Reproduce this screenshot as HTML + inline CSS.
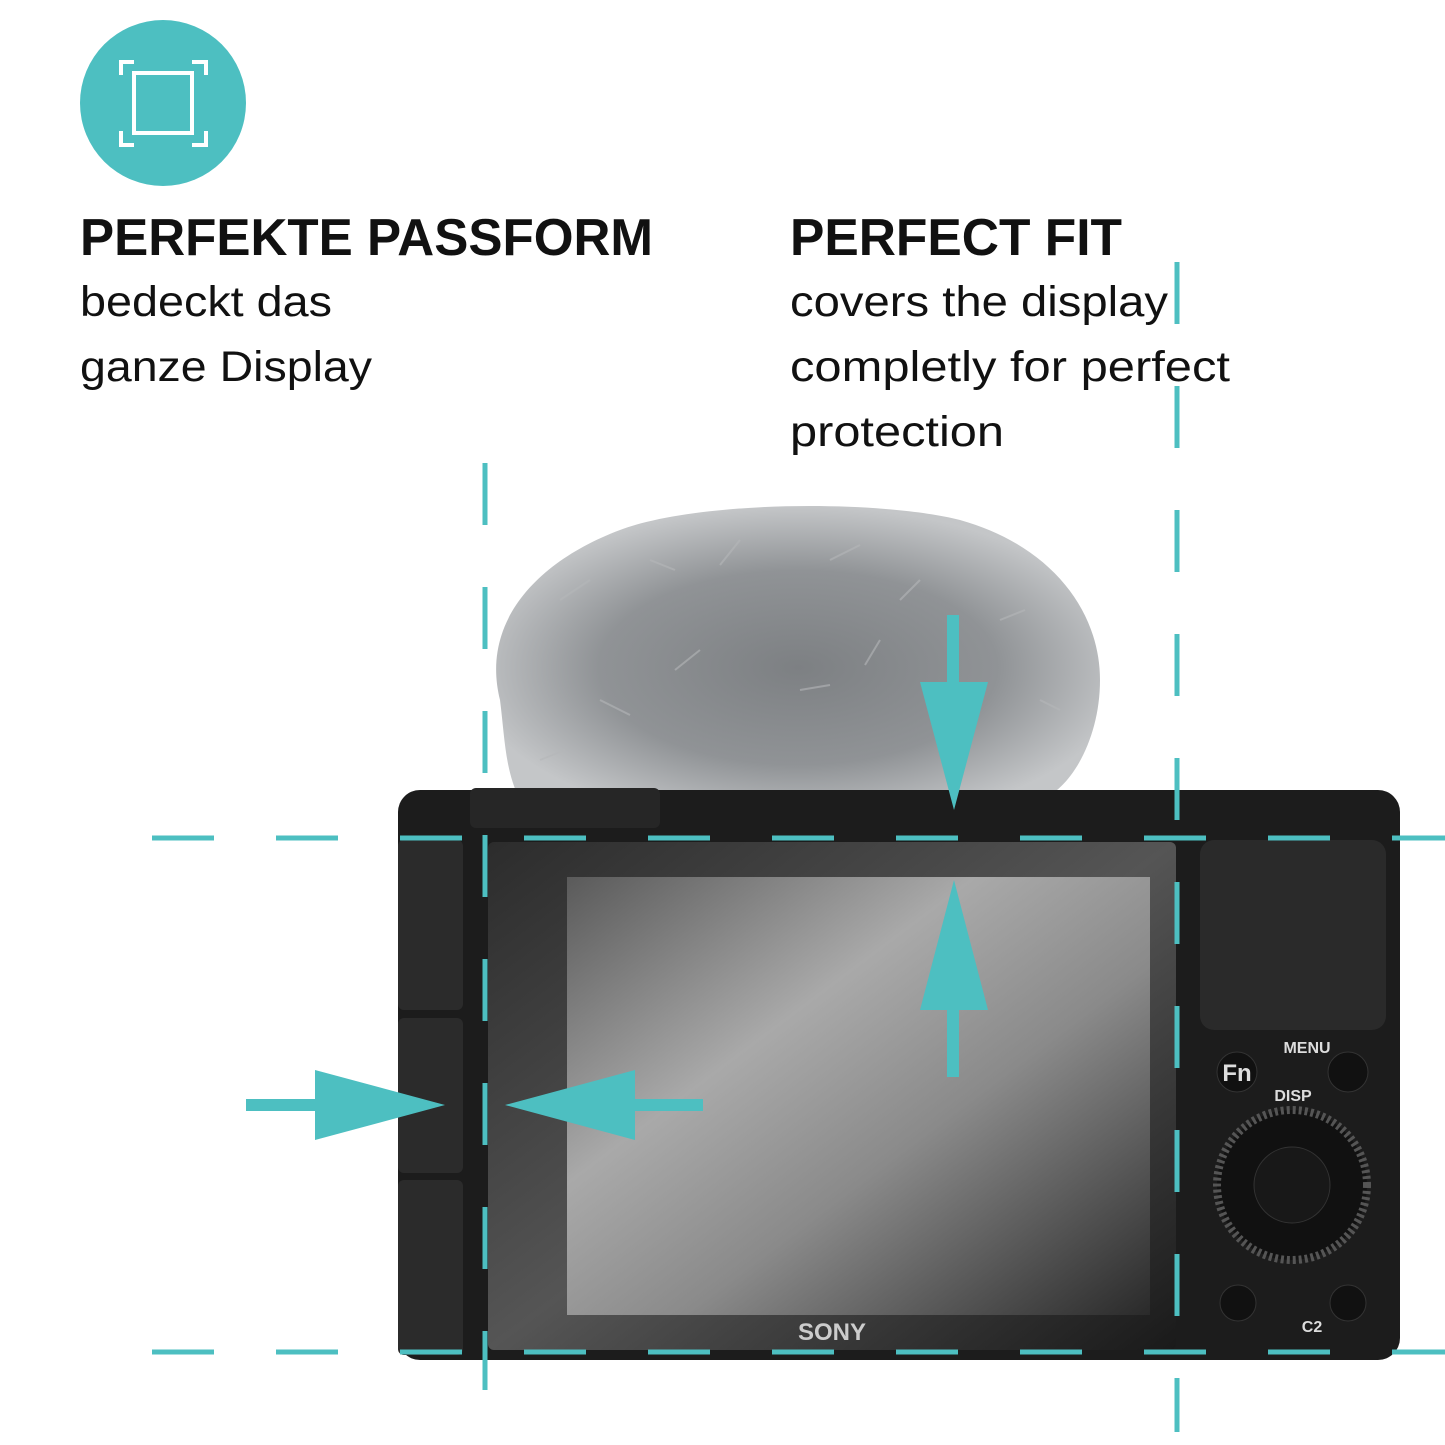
<!DOCTYPE html>
<html><head><meta charset="utf-8"><style>
html,body{margin:0;padding:0;background:#fff;}
svg{display:block}
text{font-family:"Liberation Sans","DejaVu Sans",sans-serif;}
</style></head><body>
<svg width="1445" height="1445" viewBox="0 0 1445 1445" xmlns="http://www.w3.org/2000/svg">
<defs>
<radialGradient id="fur" cx="0.5" cy="0.55" r="0.55">
<stop offset="0" stop-color="#7d8083"/><stop offset="0.6" stop-color="#909396"/><stop offset="1" stop-color="#c4c6c8"/>
</radialGradient>
<linearGradient id="scr" x1="0" y1="0" x2="1" y2="1">
<stop offset="0" stop-color="#5a5a5a"/><stop offset="0.35" stop-color="#a9a9a9"/><stop offset="0.6" stop-color="#8a8a8a"/><stop offset="1" stop-color="#2a2a2a"/>
</linearGradient>
<linearGradient id="bez" x1="0" y1="0" x2="1" y2="1">
<stop offset="0" stop-color="#2c2c2c"/><stop offset="0.5" stop-color="#555"/><stop offset="1" stop-color="#1a1a1a"/>
</linearGradient>
</defs>
<circle cx="163" cy="103" r="83" fill="#4dbfc1"/>
<g stroke="#fff" stroke-width="4" fill="none">
<rect x="134" y="73" width="58" height="60"/>
<path d="M121 75V62H134M192 62H206V75M206 131V145H192M134 145H121V131"/>
</g>
<text x="80" y="255" font-size="52" font-weight="bold" fill="#111" textLength="573" lengthAdjust="spacingAndGlyphs">PERFEKTE PASSFORM</text>
<text x="80" y="316" font-size="43" fill="#111" textLength="252" lengthAdjust="spacingAndGlyphs">bedeckt das</text>
<text x="80" y="381" font-size="43" fill="#111" textLength="292" lengthAdjust="spacingAndGlyphs">ganze Display</text>
<text x="790" y="255" font-size="52" font-weight="bold" fill="#111" textLength="332" lengthAdjust="spacingAndGlyphs">PERFECT FIT</text>
<text x="790" y="316" font-size="43" fill="#111" textLength="378" lengthAdjust="spacingAndGlyphs">covers the display</text>
<text x="790" y="381" font-size="43" fill="#111" textLength="440" lengthAdjust="spacingAndGlyphs">completly for perfect</text>
<text x="790" y="446" font-size="43" fill="#111" textLength="214" lengthAdjust="spacingAndGlyphs">protection</text>
<!-- fur -->
<path d="M500 700 C480 620 540 560 620 530 C700 500 880 500 960 520 C1050 545 1100 610 1100 680 C1100 740 1070 790 1040 800 L520 800 C505 770 505 740 500 700Z" fill="url(#fur)"/>
<g stroke="#b5b7b9" stroke-width="2" opacity="0.6">
<path d="M560 600l30-20M650 560l25 10M740 540l-20 25M830 560l30-15M920 580l-20 20M1000 620l25-10M600 700l30 15M700 650l-25 20M800 690l30-5M880 640l-15 25M1040 700l20 10M540 760l25-10"/>
</g>
<!-- camera body -->
<rect x="398" y="790" width="1002" height="570" rx="22" fill="#1c1c1c"/>
<rect x="470" y="788" width="190" height="40" rx="6" fill="#262626"/>
<rect x="398" y="840" width="65" height="170" rx="6" fill="#2b2b2b"/>
<rect x="398" y="1018" width="65" height="155" rx="6" fill="#2b2b2b"/>
<rect x="398" y="1180" width="65" height="175" rx="6" fill="#2b2b2b"/>
<rect x="488" y="842" width="688" height="508" rx="6" fill="url(#bez)"/>
<rect x="567" y="877" width="583" height="438" fill="url(#scr)"/>
<text x="832" y="1340" font-size="24" font-weight="bold" fill="#ccc" text-anchor="middle" font-family="Liberation Serif,serif">SONY</text>
<rect x="1200" y="840" width="186" height="190" rx="14" fill="#2a2a2a"/>
<circle cx="1237" cy="1072" r="20" fill="#111" stroke="#333"/>
<text x="1237" y="1081" font-size="24" font-weight="bold" fill="#ddd" text-anchor="middle">Fn</text>
<text x="1307" y="1053" font-size="16" font-weight="bold" fill="#ddd" text-anchor="middle">MENU</text>
<circle cx="1348" cy="1072" r="20" fill="#111" stroke="#333"/>
<text x="1293" y="1101" font-size="16" font-weight="bold" fill="#ddd" text-anchor="middle">DISP</text>
<circle cx="1292" cy="1185" r="75" fill="#111" stroke="#555" stroke-width="8" stroke-dasharray="3 3"/>
<circle cx="1292" cy="1185" r="38" fill="#181818" stroke="#333"/>
<circle cx="1238" cy="1303" r="18" fill="#111" stroke="#333"/>
<circle cx="1348" cy="1303" r="18" fill="#111" stroke="#333"/>
<text x="1312" y="1332" font-size="16" font-weight="bold" fill="#ddd" text-anchor="middle">C2</text>
<!-- dashed lines -->
<g stroke="#4dbfc1" stroke-width="5" stroke-dasharray="62 62">
<line x1="485" y1="463" x2="485" y2="1390"/>
<line x1="1177" y1="262" x2="1177" y2="1432"/>
<line x1="152" y1="838" x2="1445" y2="838"/>
<line x1="152" y1="1352" x2="1445" y2="1352"/>
</g>
<!-- arrows -->
<g fill="#4dbfc1">
<rect x="947" y="615" width="12" height="80"/>
<polygon points="920,682 988,682 954,810"/>
<rect x="947" y="1000" width="12" height="77"/>
<polygon points="920,1010 988,1010 954,880"/>
<rect x="246" y="1099" width="80" height="12"/>
<polygon points="315,1070 315,1140 445,1105"/>
<rect x="620" y="1099" width="83" height="12"/>
<polygon points="635,1070 635,1140 505,1105"/>
</g>
</svg>
</body></html>
